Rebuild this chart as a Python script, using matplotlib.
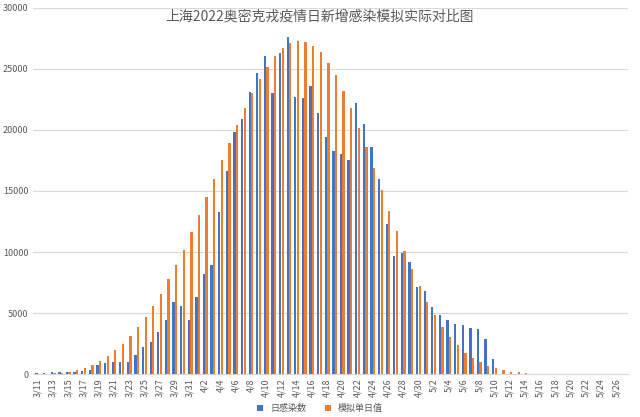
import datetime as dt

import matplotlib

matplotlib.use("Agg")

import matplotlib.pyplot as plt
from matplotlib import font_manager
import numpy as np

cjk = [f.name for f in font_manager.fontManager.ttflist if "CJK" in f.name]
sc = [n for n in cjk if n.endswith("SC")]
plt.rcParams["font.family"] = (sc or cjk or ["DejaVu Sans"])[:1] + ["DejaVu Sans"]

START = dt.date(2022, 3, 11)
N_DAYS = 78  # 3/11 .. 5/27

# actual daily infections, 3/11 .. 5/10 (zero afterwards)
actual = [
    80, 65, 170, 140, 200, 160, 260, 370, 760, 900,
    980, 980, 980, 1550, 2200, 2600, 3450, 4450, 5900, 5600,
    4450, 6300, 8200, 8900, 13300, 16600, 19800, 20900, 23100, 24700,
    26100, 23000, 26300, 27600, 22700, 22600, 23600, 21400, 19400, 18300,
    18000, 17500, 22200, 20500, 18600, 16000, 12300, 9700, 9900, 9200,
    7100, 6800, 5500, 4800, 4400, 4100, 4050, 3800, 3700, 2900,
    1250,
]
# model daily infections, 3/11 .. 5/14 (zero afterwards)
model = [
    20, 30, 50, 100, 200, 350, 500, 750, 1100, 1500,
    1950, 2450, 3100, 3850, 4700, 5600, 6600, 7800, 8900, 10200,
    11600, 13000, 14500, 16000, 17500, 18900, 20400, 21800, 23000, 24200,
    25200, 26100, 26700, 27100, 27300, 27200, 26900, 26400, 25500, 24500,
    23200, 21800, 20200, 18600, 16900, 15100, 13400, 11700, 10100, 8600,
    7200, 5900, 4800, 3850, 3000, 2400, 1750, 1300, 1000, 680,
    500, 300, 200, 150, 100,
]

actual = np.array(actual + [0] * (N_DAYS - len(actual)), dtype=float)
model = np.array(model + [0] * (N_DAYS - len(model)), dtype=float)
dates = [START + dt.timedelta(days=i) for i in range(N_DAYS)]
labels = ["%d/%d" % (d.month, d.day) for d in dates]

BLUE = "#4472C4"
ORANGE = "#ED7D31"

fig = plt.figure(figsize=(6.4, 4.17), dpi=100)
ax = fig.add_axes([0.052, 0.103, 0.93, 0.878])

x = np.arange(N_DAYS)
w = 0.3
ax.bar(x - w / 2 - 0.02, actual, width=w, color=BLUE, label="日感染数", zorder=3)
ax.bar(x + w / 2 + 0.02, model, width=w, color=ORANGE, label="模拟单日值", zorder=3)

ax.set_xlim(-0.6, N_DAYS - 0.4)
ax.set_ylim(0, 30000)
ax.set_yticks(np.arange(0, 30001, 5000))
ax.set_xticks(x[::2])
ax.set_xticklabels(labels[::2], rotation=90, fontsize=6.5, color="#595959")
ax.tick_params(axis="y", labelsize=6.5, colors="#595959", length=0)
ax.tick_params(axis="x", length=0, pad=3)
ax.grid(axis="y", color="#D9D9D9", linewidth=0.8, zorder=0)
for side in ["top", "right", "left"]:
    ax.spines[side].set_visible(False)
ax.spines["bottom"].set_color("#D9D9D9")

fig.text(0.5, 0.96, "上海2022奥密克戎疫情日新增感染模拟实际对比图", ha="center", va="center",
         fontsize=10, color="#595959")
fig.legend(loc="lower center", ncol=2, frameon=False, fontsize=6.5,
           bbox_to_anchor=(0.5, -0.01), handlelength=0.7, handleheight=0.7,
           labelcolor="#595959")

fig.savefig("out.png", dpi=100)
